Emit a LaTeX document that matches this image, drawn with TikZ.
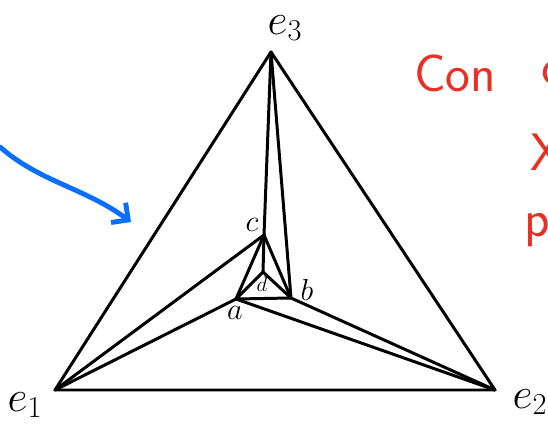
\documentclass[tikz,border=0pt]{standalone}
\usepackage{amsmath,amssymb}
\usepackage{xcolor}
\usetikzlibrary{arrows.meta}

\definecolor{penred}{RGB}{232,48,36}
\definecolor{penblue}{RGB}{10,110,255}

\begin{document}
\begin{tikzpicture}[
    x=0.02cm, y=-0.02cm,
    edge/.style={line width=1.7pt, line join=round, line cap=round},
    lbl/.style={inner sep=0pt, font=\fontsize{26}{28}\selectfont},
    small/.style={inner sep=0pt, font=\fontsize{19}{20}\selectfont},
    note/.style={inner sep=0pt, text=penred, font=\sffamily\fontsize{30}{32}\selectfont},
    hint/.style={line width=2.8pt, penblue, line cap=round, -{Straight Barb[length=7pt,width=14pt,line width=2.8pt]}}
  ]
  \clip (0,0) rectangle (548,435);
  \useasboundingbox (0,0) rectangle (548,435);

  % vertices
  \coordinate (e1) at (55,390);
  \coordinate (e2) at (495,390);
  \coordinate (e3) at (271,52);
  \coordinate (a) at (236,299);
  \coordinate (b) at (291,298);
  \coordinate (c) at (264,235);
  \coordinate (d) at (263,272);

  % labels
  \node[lbl] (le1) at (25,405) {$e_1$};
  \node[lbl] (le2) at (530,402) {$e_2$};
  \node[lbl] (le3) at (285,28) {$e_3$};
  \node[small] (la) at (235,313) {$a$};
  \node[small] (lb) at (307,290) {$b$};
  \node[small] (lc) at (252,225) {$c$};
  \node[inner sep=0pt, font=\fontsize{13}{14}\selectfont] (ld) at (262,284) {$d$};

  % outer triangle
  \draw[edge] (e1) -- (e2) -- (e3) -- cycle;
  % spokes
  \draw[edge] (e3) -- (c);
  \draw[edge] (e3) -- (b);
  \draw[edge] (e1) -- (c);
  \draw[edge] (e1) -- (a);
  \draw[edge] (e2) -- (a);
  \draw[edge] (e2) -- (b);
  % inner triangle
  \draw[edge] (a) -- (b) -- (c) -- cycle;
  \draw[edge] (d) -- (a);
  \draw[edge] (d) -- (b);
  \draw[edge] (d) -- (c);

  % notes
  \node[note] (con) at (455,73) {Con};
  \node[note, anchor=west] (n1) at (541,73) {c};
  \node[note, anchor=west] (n2) at (530,152) {X};
  \node[note, anchor=west] (n3) at (524,230) {p};

  \coordinate (hs) at (0,147);
  \coordinate (ht) at (131,222);
  \draw[hint] (hs) .. controls (40,182) and (85,188) .. (ht);
\end{tikzpicture}
\end{document}
